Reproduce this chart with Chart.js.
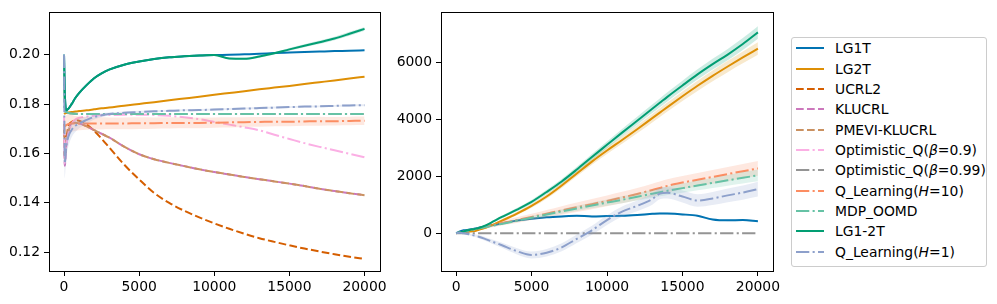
<!DOCTYPE html>
<html>
<head>
<meta charset="utf-8">
<script src="https://cdn.jsdelivr.net/npm/chart.js@4.4.1/dist/chart.umd.min.js"></script>
<style>
  body { margin: 0; background: #fff; font-family: "DejaVu Sans", sans-serif; }
  #wrap { position: relative; width: 997px; height: 304px; }
  canvas { position: absolute; top: 0; }
  #legend { position: absolute; left: 791px; top: 37px; width: 194px; height: 228px;
            border: 1px solid #cccccc; border-radius: 3px; background: #fff; }
  .row { position: absolute; left: 4px; height: 20px; display: flex; align-items: center;
         font-size: 13.9px; color: #000; white-space: nowrap; }
  .row svg { width: 28px; height: 10px; margin-right: 11px; flex: none; }
</style>
</head>
<body>
<div id="wrap">
  <canvas id="left" width="390" height="304" style="left:0"></canvas>
  <canvas id="right" width="395" height="304" style="left:390px"></canvas>
  <div id="legend"></div>
</div>
<script>
// methods, in plotting order
const names = ['LG1T', 'LG2T', 'UCRL2', 'KLUCRL', 'PMEVI-KLUCRL', 'Optimistic_Q(β=0.9)',
  'Optimistic_Q(β=0.99)', 'Q_Learning(H=10)', 'MDP_OOMD', 'LG1-2T', 'Q_Learning(H=1)'];
const colors = ['#0173b2', '#de8f05', '#d55e00', '#cc78bc', '#ca9161', '#fbafe4',
  '#949494', '#fc8d62', '#66c2a5', '#029e73', '#8da0cb'];
const styles = ['solid', 'solid', 'dashed', 'dashed', 'dashed', 'dashdot',
  'dashdot', 'dashdot', 'dashdot', 'solid', 'dashdot'];

const xTicks = [0, 5000, 10000, 15000, 20000];
const yTicksL = [0.12, 0.14, 0.16, 0.18, 0.20];
const yTicksR = [0, 2000, 4000, 6000];

// left panel
const xL = [0, 50, 150, 300, 500, 750, 1000, 1500, 2000, 2500, 3000, 4000, 5000, 6000, 7000,
  8000, 9000, 10000, 11000, 12000, 13000, 14000, 15000, 16000, 17000, 18000, 19000, 20000];
const lg1tL = [0.200, 0.185, 0.1775, 0.1782, 0.1800, 0.1825, 0.1845, 0.1877, 0.1905, 0.1925, 0.1940,
  0.1960, 0.1973, 0.1983, 0.1990, 0.1994, 0.1997, 0.1999, 0.2000, 0.2002, 0.2004, 0.2007, 0.2009,
  0.2011, 0.2013, 0.2015, 0.2016, 0.2018];
const lg2tL = [0.1760, 0.1762, 0.1764, 0.1766, 0.1768, 0.1770, 0.1772, 0.1775, 0.1779, 0.1783, 0.1786,
  0.1794, 0.1801, 0.1808, 0.1816, 0.1823, 0.1830, 0.1838, 0.1845, 0.1852, 0.1860, 0.1867, 0.1874,
  0.1882, 0.1889, 0.1896, 0.1904, 0.1911];
const ucrl2L = [0.172, 0.165, 0.1665, 0.1712, 0.1728, 0.1735, 0.1733, 0.1718, 0.1692, 0.1660, 0.1625,
  0.1555, 0.1495, 0.1440, 0.1400, 0.1368, 0.1341, 0.1317, 0.1295, 0.1275, 0.1257, 0.1242, 0.1228,
  0.1215, 0.1203, 0.1192, 0.1182, 0.1173];
const klucrlL = [0.170, 0.155, 0.163, 0.169, 0.1722, 0.1725, 0.1722, 0.1710, 0.1695, 0.1680, 0.1665,
  0.1628, 0.1597, 0.1577, 0.1562, 0.1549, 0.1536, 0.1525, 0.1515, 0.1505, 0.1496, 0.1487, 0.1478,
  0.1468, 0.1457, 0.1448, 0.1439, 0.1431];
const pmeviL = [0.170, 0.158, 0.164, 0.169, 0.1722, 0.1725, 0.1722, 0.1710, 0.1695, 0.1680, 0.1665,
  0.1628, 0.1597, 0.1577, 0.1562, 0.1549, 0.1536, 0.1525, 0.1515, 0.1505, 0.1496, 0.1487, 0.1478,
  0.1468, 0.1457, 0.1448, 0.1439, 0.1431];
const optQ09L = [0.175, 0.156, 0.163, 0.168, 0.172, 0.1738, 0.1745, 0.1750, 0.1753, 0.1755, 0.1756,
  0.1757, 0.1757, 0.1756, 0.1753, 0.1747, 0.1739, 0.1728, 0.1717, 0.1706, 0.1694, 0.1676, 0.1659,
  0.1642, 0.1627, 0.1613, 0.1599, 0.1585];
const optQ099L = [0.195, 0.1775, 0.1768, 0.1764, 0.1762, 0.1761, 0.1760, 0.1760, 0.1760, 0.1760, 0.1760,
  0.1760, 0.1760, 0.1760, 0.1760, 0.1760, 0.1760, 0.1760, 0.1760, 0.1760, 0.1760, 0.1760, 0.1760,
  0.1760, 0.1760, 0.1760, 0.1760, 0.1760];
const qlH10L = [0.172, 0.171, 0.1715, 0.1720, 0.1722, 0.1722, 0.1722, 0.1722, 0.1722, 0.1722, 0.1722,
  0.1722, 0.1723, 0.1723, 0.1724, 0.1724, 0.1724, 0.1725, 0.1726, 0.1727, 0.1728, 0.1729, 0.1729,
  0.1730, 0.1731, 0.1731, 0.1732, 0.1733];
const qlH10SpreadL = [0.001, 0.003, 0.004, 0.004, 0.0035, 0.003, 0.0028, 0.0026, 0.0025, 0.0025, 0.0024,
  0.0024, 0.0024, 0.0023, 0.0023, 0.0022, 0.0022, 0.0021, 0.0021, 0.0020, 0.0020, 0.0019, 0.0019,
  0.0018, 0.0018, 0.0017, 0.0017, 0.0017];
const mdpL = [0.195, 0.1775, 0.1768, 0.1764, 0.1762, 0.1761, 0.1760, 0.1760, 0.1760, 0.1760, 0.1760,
  0.1760, 0.1760, 0.1760, 0.1760, 0.1760, 0.1760, 0.1760, 0.1760, 0.1760, 0.1760, 0.1760, 0.1760,
  0.1760, 0.1760, 0.1760, 0.1760, 0.1760];
const lg12tL = [0.200, 0.185, 0.1775, 0.1782, 0.1800, 0.1825, 0.1845, 0.1877, 0.1905, 0.1925, 0.1940,
  0.1960, 0.1973, 0.1983, 0.1990, 0.1994, 0.1997, 0.1999, 0.1985, 0.1984, 0.1993, 0.2006, 0.2022,
  0.2037, 0.2051, 0.2066, 0.2085, 0.2105];
const lg12tSpreadL = [0, 0.0004, 0.0004, 0.0003, 0.0003, 0.0003, 0.0003, 0.0003, 0.0003, 0.0003, 0.0003,
  0.0003, 0.0003, 0.0003, 0.0003, 0.0003, 0.0003, 0.0003, 0.0004, 0.0004, 0.0005, 0.0005, 0.0006,
  0.0006, 0.0007, 0.0007, 0.0008, 0.0008];
const qlH1L = [0.200, 0.156, 0.163, 0.167, 0.1695, 0.1712, 0.1722, 0.1736, 0.1748, 0.1755, 0.1760,
  0.1765, 0.1768, 0.1771, 0.1773, 0.1775, 0.1776, 0.1778, 0.1780, 0.1782, 0.1784, 0.1786, 0.1788,
  0.1790, 0.1791, 0.1793, 0.1795, 0.1796];
const qlH1SpreadL = [0, 0.006, 0.005, 0.004, 0.003, 0.0025, 0.002, 0.0015, 0.001, 0.0008, 0.0006,
  0.0005, 0.0005, 0.0004, 0.0004, 0.0004, 0.0004, 0.0004, 0.0004, 0.0004, 0.0004, 0.0004, 0.0004,
  0.0004, 0.0004, 0.0004, 0.0004, 0.0004];

// right panel
const xR = [0, 250, 500, 750, 1000, 1250, 1500, 2000, 2500, 3000, 4000, 5000, 6000, 7000, 8000,
  9000, 10000, 11000, 12000, 13000, 13500, 14000, 15000, 16000, 17000, 18000, 19000, 20000];
const lg1tR = [0, 60, 100, 110, 140, 160, 190, 240, 290, 340, 440, 510, 560, 590, 610,
  590, 600, 610, 640, 680, 695, 690, 660, 610, 480, 450, 460, 420];
const lg1tSpreadR = [0, 10, 15, 15, 20, 20, 20, 25, 25, 25, 30, 30, 30, 30, 30,
  30, 30, 30, 30, 30, 30, 30, 30, 30, 30, 30, 30, 30];
const lg2tR = [0, 10, 30, 50, 60, 70, 120, 200, 310, 430, 680, 960, 1290, 1680, 2100,
  2520, 2910, 3280, 3660, 4050, 4245, 4440, 4820, 5190, 5540, 5870, 6190, 6500];
const lg2tSpreadR = [0, 5, 10, 15, 20, 25, 30, 35, 40, 50, 60, 70, 80, 90, 100,
  110, 120, 130, 140, 150, 155, 160, 170, 180, 190, 200, 210, 220];
const optQ099R = [0, 0, 0, 0, 0, 0, 0, 0, 0, 0, 0, 0, 0, 0, 0,
  0, 0, 0, 0, 0, 0, 0, 0, 0, 0, 0, 0, 0];
const qlH10R = [0, 25, 55, 85, 110, 140, 170, 230, 290, 345, 455, 570, 685, 800, 910,
  1020, 1135, 1255, 1380, 1520, 1590, 1665, 1780, 1880, 1980, 2080, 2180, 2280];
const qlH10SpreadR = [0, 10, 20, 30, 40, 45, 50, 60, 70, 80, 100, 110, 130, 150, 170,
  180, 190, 200, 210, 220, 225, 230, 235, 240, 245, 250, 255, 260];
const mdpR = [0, 25, 50, 80, 105, 135, 160, 215, 270, 325, 435, 545, 655, 765, 870,
  975, 1075, 1175, 1280, 1390, 1440, 1490, 1585, 1680, 1770, 1860, 1950, 2035];
const mdpSpreadR = [0, 5, 10, 15, 20, 22, 25, 30, 35, 40, 50, 60, 70, 80, 90,
  100, 110, 120, 130, 140, 145, 150, 160, 170, 180, 190, 200, 210];
const lg12tR = [0, 20, 60, 100, 130, 150, 180, 280, 420, 560, 820, 1100, 1450, 1820, 2240,
  2680, 3110, 3540, 3960, 4380, 4590, 4800, 5200, 5590, 5950, 6290, 6660, 7070];
const lg12tSpreadR = [0, 5, 10, 15, 20, 25, 30, 35, 40, 50, 60, 70, 80, 90, 100,
  110, 120, 130, 140, 150, 155, 160, 170, 180, 190, 200, 210, 220];
const qlH1R = [0, 10, -5, -30, -60, -90, -125, -220, -320, -420, -630, -770, -690, -500, -200,
  100, 460, 760, 960, 1200, 1390, 1420, 1290, 1150, 1220, 1330, 1430, 1550];
const qlH1SpreadR = [0, 10, 20, 30, 40, 50, 55, 70, 80, 90, 110, 120, 130, 140, 150,
  160, 170, 180, 190, 200, 200, 200, 210, 220, 230, 240, 250, 260];

const leftSeries = [lg1tL, lg2tL, ucrl2L, klucrlL, pmeviL, optQ09L, optQ099L, qlH10L, mdpL, lg12tL, qlH1L];
const leftSpread = {7: qlH10SpreadL, 9: lg12tSpreadL, 10: qlH1SpreadL};
const rightSeries = [lg1tR, lg2tR, null, null, null, null, optQ099R, qlH10R, mdpR, lg12tR, qlH1R];
const rightSpread = {0: lg1tSpreadR, 1: lg2tSpreadR, 7: qlH10SpreadR, 8: mdpSpreadR, 9: lg12tSpreadR, 10: qlH1SpreadR};

const DASH = { solid: [], dashed: [7.7, 3.3], dashdot: [13.3, 3.3, 2.1, 3.3] };
const FONT = { family: 'DejaVu Sans', size: 13.9 };

function rgba(hex, a) {
  const n = parseInt(hex.slice(1), 16);
  return `rgba(${n >> 16}, ${(n >> 8) & 255}, ${n & 255}, ${a})`;
}

function buildDatasets(xs, series, spreads) {
  const sets = [];
  series.forEach((ys, i) => {
    if (!ys) return;
    const sp = spreads[i];
    if (sp) {
      // shaded band: lower edge, then upper edge filled down to it
      const base = { pointRadius: 0, borderWidth: 0, borderColor: 'rgba(0,0,0,0)',
                     cubicInterpolationMode: 'monotone', order: 100 - 2 * i + 1 };
      sets.push(Object.assign({ data: xs.map((x, k) => ({ x, y: ys[k] - sp[k] })), fill: false }, base));
      sets.push(Object.assign({ data: xs.map((x, k) => ({ x, y: ys[k] + sp[k] })), fill: '-1',
                                backgroundColor: rgba(colors[i], 0.2) }, base));
    }
    sets.push({
      data: xs.map((x, k) => ({ x, y: ys[k] })),
      borderColor: colors[i], borderWidth: 2, borderDash: DASH[styles[i]],
      pointRadius: 0, fill: false, cubicInterpolationMode: 'monotone',
      order: 100 - 2 * i
    });
  });
  return sets;
}

// matplotlib-style full box round the axes
const framePlugin = {
  id: 'frame',
  afterDatasetsDraw(chart) {
    const { ctx, chartArea: a } = chart;
    ctx.save();
    ctx.strokeStyle = '#000';
    ctx.lineWidth = 1;
    ctx.strokeRect(Math.round(a.left) + 0.5, Math.round(a.top) + 0.5,
                   Math.round(a.right - a.left), Math.round(a.bottom - a.top));
    ctx.restore();
  }
};

function makeOptions(yMin, yMax, yTicks, fmt, yWidth, padRight) {
  return {
    responsive: false, animation: false, devicePixelRatio: 1,
    layout: { padding: { top: 9, right: padRight, left: 0, bottom: 0 } },
    plugins: { legend: { display: false }, tooltip: { enabled: false } },
    scales: {
      x: {
        type: 'linear', min: -1000, max: 21000,
        afterBuildTicks: s => { s.ticks = xTicks.map(v => ({ value: v })); },
        afterFit: s => { s.height = 33; },
        ticks: { callback: v => String(v), font: FONT, color: '#000', padding: 3,
                 maxRotation: 0, autoSkip: false },
        grid: { drawOnChartArea: false, tickLength: 5, tickColor: '#000' },
        border: { display: false }
      },
      y: {
        type: 'linear', min: yMin, max: yMax,
        afterBuildTicks: s => { s.ticks = yTicks.map(v => ({ value: v })); },
        afterFit: s => { s.width = yWidth; },
        ticks: { callback: fmt, font: FONT, color: '#000', padding: 4, autoSkip: false },
        grid: { drawOnChartArea: false, tickLength: 5, tickColor: '#000' },
        border: { display: false }
      }
    }
  };
}

new Chart(document.getElementById('left'), {
  type: 'line',
  data: { datasets: buildDatasets(xL, leftSeries, leftSpread) },
  options: makeOptions(0.1124, 0.2172, yTicksL, v => v.toFixed(2), 49, 8),
  plugins: [framePlugin]
});

new Chart(document.getElementById('right'), {
  type: 'line',
  data: { datasets: buildDatasets(xR, rightSeries, rightSpread) },
  options: makeOptions(-1334, 7777, yTicksR, v => String(v), 51, 12),
  plugins: [framePlugin]
});

// legend
const legend = document.getElementById('legend');
names.forEach((name, i) => {
  const row = document.createElement('div');
  row.className = 'row';
  row.style.top = (0.3 + 20.33 * i) + 'px';
  const dash = DASH[styles[i]].join(' ');
  row.innerHTML = `<svg viewBox="0 0 28 10"><line x1="0" y1="5" x2="28" y2="5" stroke="${colors[i]}"
    stroke-width="2" ${dash ? `stroke-dasharray="${dash}"` : ''}/></svg>` +
    `<span>${name.replace('β', '<i>β</i>').replace('(H', '(<i>H</i>')}</span>`;
  legend.appendChild(row);
});
</script>
</body>
</html>
